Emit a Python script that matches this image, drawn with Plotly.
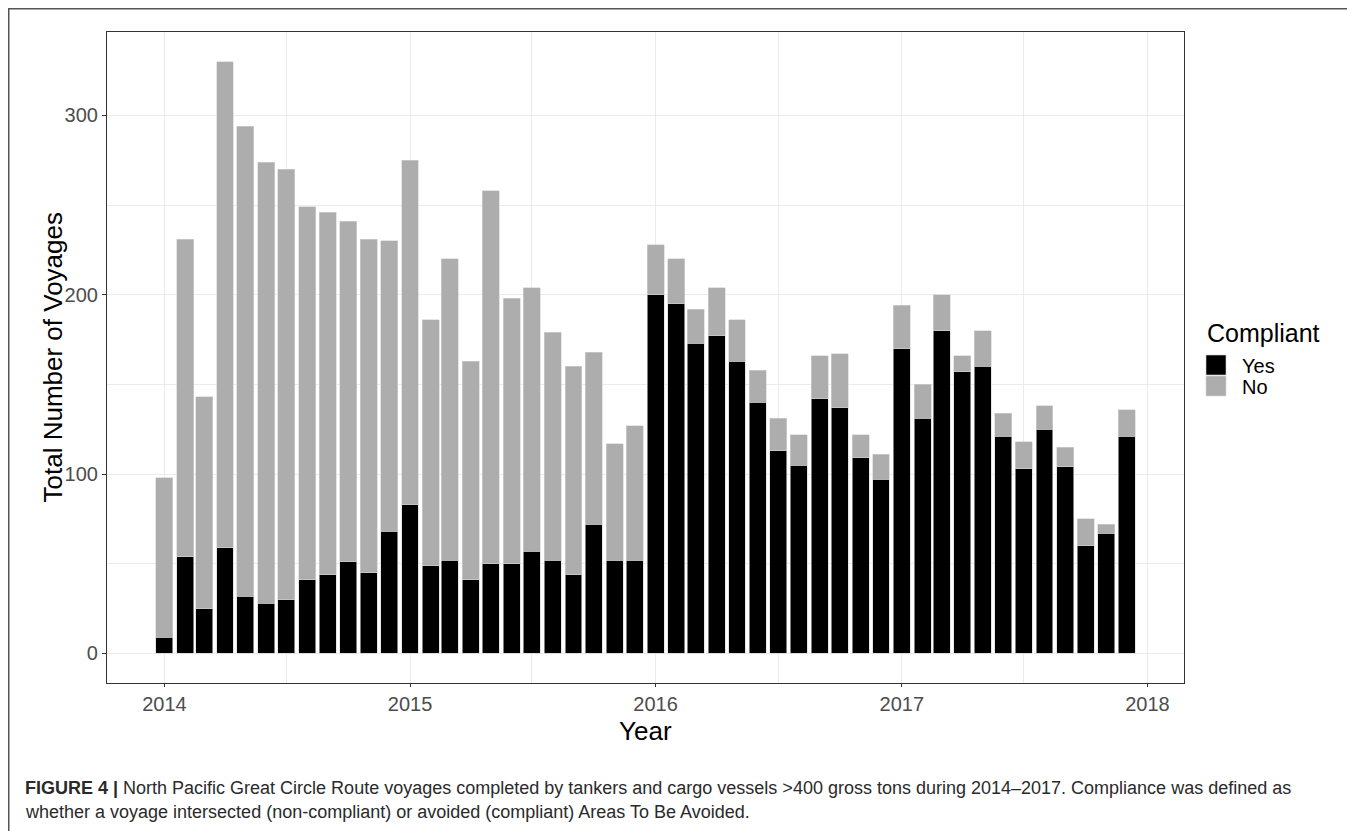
import pandas as pd
import plotly.graph_objects as go

months = pd.date_range("2014-01-01", periods=48, freq="MS")

total = [98, 231, 143, 330, 294, 274, 270, 249, 246, 241, 231, 230,
         275, 186, 220, 163, 258, 198, 204, 179, 160, 168, 117, 127,
         228, 220, 192, 204, 186, 158, 131, 122, 166, 167, 122, 111,
         194, 150, 200, 166, 180, 134, 118, 138, 115, 75, 72, 136]
yes = [9, 54, 25, 59, 32, 28, 30, 41, 44, 51, 45, 68,
       83, 49, 52, 41, 50, 50, 57, 52, 44, 72, 52, 52,
       200, 195, 173, 177, 163, 140, 113, 105, 142, 137, 109, 97,
       170, 131, 180, 157, 160, 121, 103, 125, 104, 60, 67, 121]
no = [t - y for t, y in zip(total, yes)]

series_names = ["Yes", "No"]
series_colors = ["#000000", "#adadad"]

year_ticks = ["2014-01-01", "2015-01-01", "2016-01-01", "2017-01-01", "2018-01-01"]
year_labels = ["2014", "2015", "2016", "2017", "2018"]
half_ticks = ["2014-07-01", "2015-07-01", "2016-07-01", "2017-07-01"]

FONT = "Liberation Sans, Arial, sans-serif"
bar_w = 25.2 * 86400000

# figure geometry (the page adds an 8px body margin)
W, H = 1347, 823
ML, MR, MT, MB = 99, 171, 24, 148
PW = W - ML - MR
PH = H - MT - MB


def px(x):
    return (x - ML) / PW


def py(y):
    return (H - MB - y) / PH


fig = go.Figure()
for name, vals, col in zip(series_names, [yes, no], series_colors):
    fig.add_trace(go.Bar(x=months, y=vals, name=name, width=bar_w,
                         marker=dict(color=col, line=dict(color="#d4d4d4", width=0.6))))

fig.update_layout(
    barmode="stack",
    width=W, height=H,
    margin=dict(l=ML, r=MR, t=MT, b=MB),
    paper_bgcolor="white", plot_bgcolor="white",
    font=dict(family=FONT, color="#000000"),
    showlegend=False,
    xaxis=dict(
        type="date",
        range=["2013-10-07 15:36", "2018-02-24 08:24"],
        tickmode="array", tickvals=year_ticks, ticktext=year_labels,
        tickfont=dict(size=20, color="#4d4d4d"),
        ticks="outside", ticklen=3, tickcolor="#333333",
        showgrid=True, gridcolor="#ebebeb", gridwidth=1,
        minor=dict(tickmode="array", tickvals=half_ticks, showgrid=True,
                   gridcolor="#ebebeb", gridwidth=1, ticks=""),
        showline=True, linecolor="#333333", linewidth=1.2, mirror=True,
        zeroline=False,
    ),
    yaxis=dict(
        range=[-16.5, 346.5],
        tickmode="array", tickvals=[0, 100, 200, 300],
        tickfont=dict(size=20, color="#4d4d4d"),
        ticks="outside", ticklen=4, tickcolor="#333333",
        showgrid=True, gridcolor="#ebebeb", gridwidth=1,
        minor=dict(tickmode="array", tickvals=[50, 150, 250], showgrid=True,
                   gridcolor="#ebebeb", gridwidth=1, ticks=""),
        showline=True, linecolor="#333333", linewidth=1.2, mirror=True,
        zeroline=False,
    ),
)

# axis titles
fig.add_annotation(text="Year", xref="paper", yref="paper", x=0.5, y=py(723),
                   xanchor="center", yanchor="middle", showarrow=False, borderpad=0,
                   font=dict(size=26, color="#000", family=FONT))
fig.add_annotation(text="Total Number of Voyages", xref="paper", yref="paper", x=px(44), y=0.5,
                   xanchor="center", yanchor="middle", showarrow=False, textangle=-90,
                   font=dict(size=26, color="#000", family=FONT))

# legend (ggplot-style keys)
fig.add_annotation(text="Compliant", xref="paper", yref="paper", x=px(1197), y=py(325),
                   xanchor="left", yanchor="middle", showarrow=False,
                   font=dict(size=25, color="#000", family=FONT))
for i, (name, col) in enumerate(zip(series_names, series_colors)):
    top = 347 + i * 21
    fig.add_shape(type="rect", xref="paper", yref="paper",
                  x0=px(1198), x1=px(1218), y0=py(top + 20), y1=py(top),
                  fillcolor=col, line=dict(color="#d4d4d4", width=0.6))
    fig.add_annotation(text=name, xref="paper", yref="paper", x=px(1232), y=py(top + 11),
                       xanchor="left", yanchor="middle", showarrow=False,
                       font=dict(size=20, color="#000", family=FONT))

# outer figure frame
fig.add_shape(type="rect", xref="paper", yref="paper",
              x0=px(0.75), x1=px(W + 20), y0=py(H + 20), y1=py(0.75),
              line=dict(color="#555555", width=1.5), fillcolor="rgba(0,0,0,0)", layer="above")

cap1 = ("<b>FIGURE 4 |</b> North Pacific Great Circle Route voyages completed by tankers and cargo vessels "
        "&gt;400 gross tons during 2014–2017. Compliance was defined as")
cap2 = "whether a voyage intersected (non-compliant) or avoided (compliant) Areas To Be Avoided."
for txt, ypix in [(cap1, 780), (cap2, 804)]:
    fig.add_annotation(text=txt, xref="paper", yref="paper",
                       x=px(15), y=py(ypix),
                       xanchor="left", yanchor="middle", showarrow=False, align="left",
                       font=dict(size=18, color="#2a2a2a", family=FONT))

fig.write_html("out.html")
